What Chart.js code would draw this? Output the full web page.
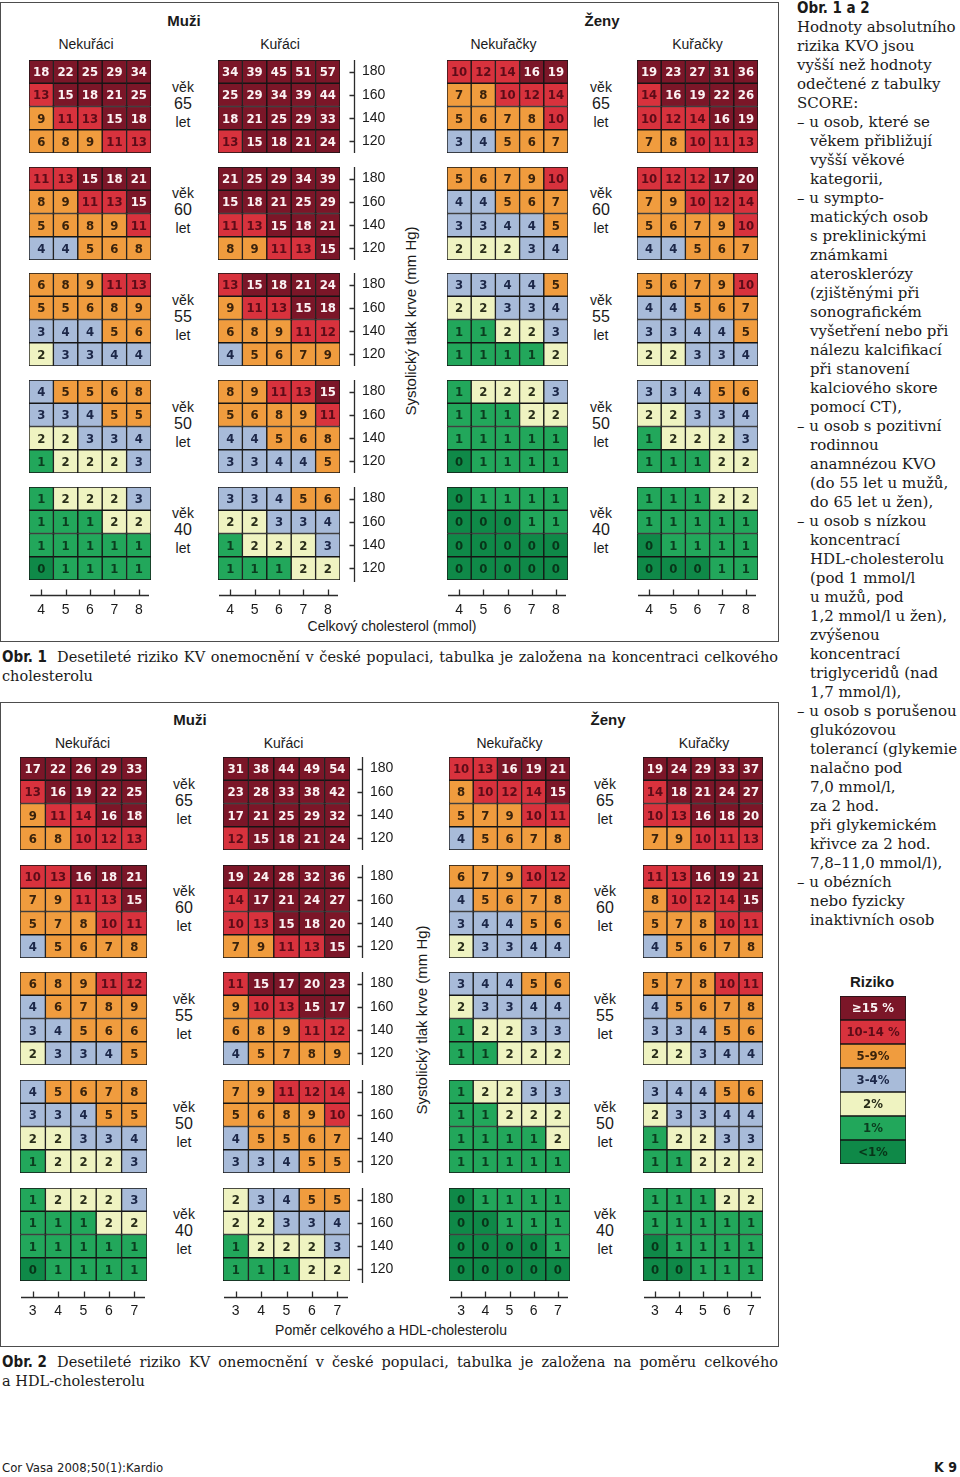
<!DOCTYPE html>
<html lang="cs">
<head>
<meta charset="utf-8">
<title>SCORE – riziko KV onemocnění</title>
<script src="https://cdn.jsdelivr.net/npm/chart.js@4.4.0/dist/chart.umd.min.js"></script>
<style>
  body { margin: 0; background: #fff; width: 960px; height: 1477px; position: relative; overflow: hidden;
         font-family: 'Liberation Sans', Arial, sans-serif; color: #1a1a1a; }
  .t { position: absolute; white-space: nowrap; transform: translate(-50%, -50%); line-height: 1; }
  .frame { position: absolute; border: 1px solid #4d4d4d; box-sizing: border-box; }
  .cv { position: absolute; }
  .narrow { font-family: 'Liberation Sans Narrow', 'DejaVu Sans Condensed', 'Liberation Sans', sans-serif; font-stretch: condensed; }
  .serif { font-family: 'DejaVu Serif', 'Liberation Serif', serif; }
  .cap { position: absolute; left: 2px; width: 776px; font-size: 14.5px; line-height: 19px; }
  .cap .l1 { display: flex; }
  .cap b { width: 55px; flex: none; font-size: 15px; }
  .cap .j { flex: 1; white-space: nowrap; text-align: justify; text-align-last: justify; }
  #side { position: absolute; left: 797px; top: -1px; font-size: 15px; line-height: 19px; white-space: nowrap; }
  #side div.i { padding-left: 13px; }
</style>
</head>
<body>
<script>
// categories / ticks
const ageGroups = [65, 60, 55, 50, 40];
const sbpLabels = [180, 160, 140, 120];
const cholTicks = [4, 5, 6, 7, 8];
const ratioTicks = [3, 4, 5, 6, 7];

// risk bands (legend)
const bandLabels = ['≥15 %', '10-14 %', '5-9%', '3-4%', '2%', '1%', '<1%'];
const bandMins = [15, 10, 5, 3, 2, 1, 0];

// Obr. 1 - celkový cholesterol; rows = SBP 180..120, columns = cholTicks
const f1MenNon = [
  [[18, 22, 25, 29, 34], [13, 15, 18, 21, 25], [9, 11, 13, 15, 18], [6, 8, 9, 11, 13]],
  [[11, 13, 15, 18, 21], [8, 9, 11, 13, 15], [5, 6, 8, 9, 11], [4, 4, 5, 6, 8]],
  [[6, 8, 9, 11, 13], [5, 5, 6, 8, 9], [3, 4, 4, 5, 6], [2, 3, 3, 4, 4]],
  [[4, 5, 5, 6, 8], [3, 3, 4, 5, 5], [2, 2, 3, 3, 4], [1, 2, 2, 2, 3]],
  [[1, 2, 2, 2, 3], [1, 1, 1, 2, 2], [1, 1, 1, 1, 1], [0, 1, 1, 1, 1]]
];
const f1MenSmk = [
  [[34, 39, 45, 51, 57], [25, 29, 34, 39, 44], [18, 21, 25, 29, 33], [13, 15, 18, 21, 24]],
  [[21, 25, 29, 34, 39], [15, 18, 21, 25, 29], [11, 13, 15, 18, 21], [8, 9, 11, 13, 15]],
  [[13, 15, 18, 21, 24], [9, 11, 13, 15, 18], [6, 8, 9, 11, 12], [4, 5, 6, 7, 9]],
  [[8, 9, 11, 13, 15], [5, 6, 8, 9, 11], [4, 4, 5, 6, 8], [3, 3, 4, 4, 5]],
  [[3, 3, 4, 5, 6], [2, 2, 3, 3, 4], [1, 2, 2, 2, 3], [1, 1, 1, 2, 2]]
];
const f1WomNon = [
  [[10, 12, 14, 16, 19], [7, 8, 10, 12, 14], [5, 6, 7, 8, 10], [3, 4, 5, 6, 7]],
  [[5, 6, 7, 9, 10], [4, 4, 5, 6, 7], [3, 3, 4, 4, 5], [2, 2, 2, 3, 4]],
  [[3, 3, 4, 4, 5], [2, 2, 3, 3, 4], [1, 1, 2, 2, 3], [1, 1, 1, 1, 2]],
  [[1, 2, 2, 2, 3], [1, 1, 1, 2, 2], [1, 1, 1, 1, 1], [0, 1, 1, 1, 1]],
  [[0, 1, 1, 1, 1], [0, 0, 0, 1, 1], [0, 0, 0, 0, 0], [0, 0, 0, 0, 0]]
];
const f1WomSmk = [
  [[19, 23, 27, 31, 36], [14, 16, 19, 22, 26], [10, 12, 14, 16, 19], [7, 8, 10, 11, 13]],
  [[10, 12, 12, 17, 20], [7, 9, 10, 12, 14], [5, 6, 7, 9, 10], [4, 4, 5, 6, 7]],
  [[5, 6, 7, 9, 10], [4, 4, 5, 6, 7], [3, 3, 4, 4, 5], [2, 2, 3, 3, 4]],
  [[3, 3, 4, 5, 6], [2, 2, 3, 3, 4], [1, 2, 2, 2, 3], [1, 1, 1, 2, 2]],
  [[1, 1, 1, 2, 2], [1, 1, 1, 1, 1], [0, 1, 1, 1, 1], [0, 0, 0, 1, 1]]
];

// Obr. 2 - poměr celkového a HDL-cholesterolu; columns = ratioTicks
const f2MenNon = [
  [[17, 22, 26, 29, 33], [13, 16, 19, 22, 25], [9, 11, 14, 16, 18], [6, 8, 10, 12, 13]],
  [[10, 13, 16, 18, 21], [7, 9, 11, 13, 15], [5, 7, 8, 10, 11], [4, 5, 6, 7, 8]],
  [[6, 8, 9, 11, 12], [4, 6, 7, 8, 9], [3, 4, 5, 6, 6], [2, 3, 3, 4, 5]],
  [[4, 5, 6, 7, 8], [3, 3, 4, 5, 5], [2, 2, 3, 3, 4], [1, 2, 2, 2, 3]],
  [[1, 2, 2, 2, 3], [1, 1, 1, 2, 2], [1, 1, 1, 1, 1], [0, 1, 1, 1, 1]]
];
const f2MenSmk = [
  [[31, 38, 44, 49, 54], [23, 28, 33, 38, 42], [17, 21, 25, 29, 32], [12, 15, 18, 21, 24]],
  [[19, 24, 28, 32, 36], [14, 17, 21, 24, 27], [10, 13, 15, 18, 20], [7, 9, 11, 13, 15]],
  [[11, 15, 17, 20, 23], [9, 10, 13, 15, 17], [6, 8, 9, 11, 12], [4, 5, 7, 8, 9]],
  [[7, 9, 11, 12, 14], [5, 6, 8, 9, 10], [4, 5, 5, 6, 7], [3, 3, 4, 5, 5]],
  [[2, 3, 4, 5, 5], [2, 2, 3, 3, 4], [1, 2, 2, 2, 3], [1, 1, 1, 2, 2]]
];
const f2WomNon = [
  [[10, 13, 16, 19, 21], [8, 10, 12, 14, 15], [5, 7, 9, 10, 11], [4, 5, 6, 7, 8]],
  [[6, 7, 9, 10, 12], [4, 5, 6, 7, 8], [3, 4, 4, 5, 6], [2, 3, 3, 4, 4]],
  [[3, 4, 4, 5, 6], [2, 3, 3, 4, 4], [1, 2, 2, 3, 3], [1, 1, 2, 2, 2]],
  [[1, 2, 2, 3, 3], [1, 1, 2, 2, 2], [1, 1, 1, 1, 2], [1, 1, 1, 1, 1]],
  [[0, 1, 1, 1, 1], [0, 0, 1, 1, 1], [0, 0, 0, 0, 1], [0, 0, 0, 0, 0]]
];
const f2WomSmk = [
  [[19, 24, 29, 33, 37], [14, 18, 21, 24, 27], [10, 13, 16, 18, 20], [7, 9, 10, 11, 13]],
  [[11, 13, 16, 19, 21], [8, 10, 12, 14, 15], [5, 7, 8, 10, 11], [4, 5, 6, 7, 8]],
  [[5, 7, 8, 10, 11], [4, 5, 6, 7, 8], [3, 3, 4, 5, 6], [2, 2, 3, 4, 4]],
  [[3, 4, 4, 5, 6], [2, 3, 3, 4, 4], [1, 2, 2, 3, 3], [1, 1, 2, 2, 2]],
  [[1, 1, 1, 2, 2], [1, 1, 1, 1, 1], [0, 1, 1, 1, 1], [0, 0, 1, 1, 1]]
];

// band styles
const bandColors = ['#7b1628', '#d8323d', '#f09c3e', '#a8bbd9', '#eff3c1', '#22a75b', '#0f8948'];
const bandText = ['#fbf2f3', '#5c0c18', '#3a230c', '#1c2748', '#2a2e1a', '#0b3d1f', '#083519'];

function band(v) {
  return bandMins.findIndex(m => v >= m);
}

const CELL_FONT = "bold 13px 'Liberation Sans Narrow', 'DejaVu Sans Condensed', 'Liberation Sans', sans-serif";
const AXIS_FONT = { size: 14, family: "'Liberation Sans', Arial, sans-serif" };

// numbers inside the cells
const cellText = {
  id: 'cellText',
  afterDatasetsDraw(chart) {
    const ctx = chart.ctx;
    ctx.save();
    ctx.font = CELL_FONT;
    ctx.textAlign = 'center';
    ctx.textBaseline = 'middle';
    chart.data.datasets.forEach((ds, i) => {
      chart.getDatasetMeta(i).data.forEach((bar, j) => {
        ctx.fillStyle = bandText[ds.bands[j]];
        ctx.fillText(ds.texts[j], bar.x, (bar.y + bar.base) / 2 + 1);
      });
    });
    ctx.restore();
  }
};

// axis lines sitting a little away from the cells
const axisLines = {
  id: 'axisLines',
  afterDraw(chart, args, opts) {
    const { ctx, chartArea: a, scales } = chart;
    ctx.save();
    ctx.strokeStyle = '#2b2b2b';
    ctx.lineWidth = 1.3;
    ctx.beginPath();
    if (opts.x) {
      const y = Math.round(a.bottom + opts.x) + 0.5;
      ctx.moveTo(a.left + 1, y);
      ctx.lineTo(a.right - 2, y);
      scales.x.ticks.forEach((t, i) => {
        const px = Math.round(scales.x.getPixelForTick(i)) + 0.5;
        ctx.moveTo(px, y);
        ctx.lineTo(px, y - 6);
      });
    }
    if (opts.y) {
      const x = Math.round(a.right + opts.y) + 0.5;
      ctx.moveTo(x, a.top);
      ctx.lineTo(x, a.bottom + 2);
      scales.y.ticks.forEach(t => {
        const py = Math.round(scales.y.getPixelForValue(t.value)) + 0.5;
        ctx.moveTo(x - 5, py);
        ctx.lineTo(x, py);
      });
    }
    ctx.stroke();
    ctx.restore();
  }
};

function addText(str, x, y, size, extra) {
  const d = document.createElement('div');
  d.className = 't';
  d.textContent = str;
  d.style.left = x + 'px';
  d.style.top = y + 'px';
  d.style.fontSize = size + 'px';
  if (extra) Object.assign(d.style, extra);
  document.body.appendChild(d);
  return d;
}

function addCanvas(x, y, w, h) {
  const c = document.createElement('canvas');
  c.className = 'cv';
  c.width = w; c.height = h;
  c.style.left = x + 'px'; c.style.top = y + 'px';
  c.style.width = w + 'px'; c.style.height = h + 'px';
  document.body.appendChild(c);
  return c;
}

const PANEL_H = 93;
const X_AXIS_H = 34;
const Y_AXIS_W = 50;

function blockChart(x, y, w, rows, xLabels, showX, showY, gaps) {
  const c = addCanvas(x, y, w + (showY ? Y_AXIS_W : 0), PANEL_H + (showX ? X_AXIS_H : 0));
  const datasets = [];
  for (let r = rows.length - 1; r >= 0; r--) {
    datasets.push({
      label: sbpLabels[r] + ' mm Hg',
      data: xLabels.map(() => 1),
      texts: rows[r],
      bands: rows[r].map(band),
      backgroundColor: rows[r].map(v => bandColors[band(v)]),
      borderColor: '#151515',
      borderWidth: 1,
      borderSkipped: false,
      barPercentage: 1,
      categoryPercentage: 1
    });
  }
  const xScale = {
    stacked: true, display: showX,
    grid: { display: false, drawTicks: false }, border: { display: false },
    ticks: { padding: 22, color: '#1a1a1a', font: AXIS_FONT, autoSkip: false, maxRotation: 0 }
  };
  if (showX) xScale.afterFit = s => { s.height = X_AXIS_H; s.paddingLeft = 0; s.paddingRight = 0; };
  const yScale = {
    stacked: true, min: 0, max: rows.length, display: showY, position: 'right',
    grid: { display: false, drawTicks: false }, border: { display: false },
    afterBuildTicks: s => { s.ticks = rows.map((_, i) => ({ value: i + 0.5 })); },
    ticks: {
      padding: gaps.y + 8, color: '#1a1a1a', font: AXIS_FONT, autoSkip: false,
      callback: v => sbpLabels[rows.length - 1 - Math.floor(v)]
    }
  };
  if (showY) yScale.afterFit = s => { s.width = Y_AXIS_W; s.paddingTop = 0; s.paddingBottom = 0; };
  return new Chart(c, {
    type: 'bar',
    data: { labels: xLabels, datasets },
    options: {
      responsive: false, animation: false, devicePixelRatio: 1,
      layout: { padding: 0 },
      plugins: {
        legend: { display: false },
        tooltip: { enabled: false },
        axisLines: { x: showX ? gaps.x : 0, y: showY ? gaps.y : 0 }
      },
      scales: { x: xScale, y: yScale }
    },
    plugins: [cellText, axisLines]
  });
}

function drawFigure(f) {
  const fr = document.createElement('div');
  fr.className = 'frame';
  Object.assign(fr.style, { left: '0px', top: f.frame[0] + 'px', width: '779px', height: f.frame[1] + 'px' });
  document.body.appendChild(fr);

  addText('Muži', f.sexX[0], f.headY, 15, { fontWeight: 'bold' });
  addText('Ženy', f.sexX[1], f.headY, 15, { fontWeight: 'bold' });

  f.panels.forEach(p => {
    addText(p.title, p.x + p.w / 2 + p.titleDx, f.headY + 24, 14);
    p.data.forEach((rows, a) => {
      const top = Math.round(f.top0 + a * f.pitch);
      blockChart(p.x, top, p.w, rows, f.xLabels, a === p.data.length - 1, !!p.sbp, f.gaps);
    });
  });

  ageGroups.forEach((age, a) => {
    const mid = f.top0 + a * f.pitch + PANEL_H / 2;
    f.ageX.forEach(ax => {
      addText('věk', ax, mid - 20, 14);
      addText(String(age), ax, mid - 3, 16);
      addText('let', ax, mid + 15, 14);
    });
  });

  addText('Systolický tlak krve (mm Hg)', f.sbpTitle[0], f.sbpTitle[1], 15, { transform: 'translate(-50%, -50%) rotate(-90deg)' });
  addText(f.xTitle, f.xTitlePos[0], f.xTitlePos[1], 14);
}

drawFigure({
  frame: [2, 640], headY: 20, top0: 60, pitch: 106.7,
  sexX: [184, 602], ageX: [183, 601], xLabels: cholTicks,
  gaps: { x: 15, y: 14 },
  sbpTitle: [410, 321], xTitle: 'Celkový cholesterol (mmol)', xTitlePos: [392, 626],
  panels: [
    { title: 'Nekuřáci', data: f1MenNon, x: 29, w: 122, titleDx: -4 },
    { title: 'Kuřáci', data: f1MenSmk, x: 218, w: 122, sbp: true, titleDx: 1 },
    { title: 'Nekuřačky', data: f1WomNon, x: 447, w: 121, titleDx: -4 },
    { title: 'Kuřačky', data: f1WomSmk, x: 637, w: 121, titleDx: 0 }
  ]
});

drawFigure({
  frame: [702, 645], headY: 719, top0: 757, pitch: 107.7,
  sexX: [190, 608], ageX: [184, 605], xLabels: ratioTicks,
  gaps: { x: 16, y: 12 },
  sbpTitle: [421, 1020], xTitle: 'Poměr celkového a HDL-cholesterolu', xTitlePos: [391, 1330],
  panels: [
    { title: 'Nekuřáci', data: f2MenNon, x: 20, w: 127, titleDx: -1 },
    { title: 'Kuřáci', data: f2MenSmk, x: 223, w: 127, sbp: true, titleDx: -3 },
    { title: 'Nekuřačky', data: f2WomNon, x: 449, w: 121, titleDx: 0 },
    { title: 'Kuřačky', data: f2WomSmk, x: 643, w: 120, titleDx: 1 }
  ]
});

// legend "Riziko" as one stacked column
addText('Riziko', 872, 981, 15, { fontWeight: 'bold' });
(function () {
  const c = addCanvas(840, 996, 66, 168);
  const datasets = bandLabels.map((lab, i) => ({
    label: lab,
    data: [1],
    texts: [lab],
    bands: [i],
    backgroundColor: bandColors[i],
    borderColor: '#151515', borderWidth: 1, borderSkipped: false,
    barPercentage: 1, categoryPercentage: 1
  })).reverse();
  new Chart(c, {
    type: 'bar',
    data: { labels: ['Riziko'], datasets },
    options: {
      responsive: false, animation: false, devicePixelRatio: 1,
      plugins: { legend: { display: false }, tooltip: { enabled: false }, axisLines: { x: 0, y: 0 } },
      scales: {
        x: { stacked: true, display: false },
        y: { stacked: true, min: 0, max: bandLabels.length, display: false }
      }
    },
    plugins: [cellText, axisLines]
  });
})();

// captions
function caption(top, label, line1, line2) {
  const d = document.createElement('div');
  d.className = 'cap serif';
  d.style.top = top + 'px';
  d.innerHTML = '<div class="l1"><b class="narrow">' + label + '</b><span class="j">' + line1 + '</span></div><div>' + line2 + '</div>';
  document.body.appendChild(d);
}
caption(648, 'Obr. 1', 'Desetileté riziko KV onemocnění v české populaci, tabulka je založena na koncentraci celkového', 'cholesterolu');
caption(1353, 'Obr. 2', 'Desetileté riziko KV onemocnění v české populaci, tabulka je založena na poměru celkového', 'a HDL-cholesterolu');

// side text
const sideLines = [
  ['Obr. 1 a 2', 'h'],
  ['Hodnoty absolutního'], ['rizika KVO jsou'], ['vyšší než hodnoty'], ['odečtené z tabulky'], ['SCORE:'],
  ['– u osob, které se'], ['věkem přibližují', 'i'], ['vyšší věkové', 'i'], ['kategorii,', 'i'],
  ['– u sympto-'], ['matických osob', 'i'], ['s preklinickými', 'i'], ['známkami', 'i'], ['aterosklerózy', 'i'],
  ['(zjištěnými při', 'i'], ['sonografickém', 'i'], ['vyšetření nebo při', 'i'], ['nálezu kalcifikací', 'i'],
  ['při stanovení', 'i'], ['kalciového skore', 'i'], ['pomocí CT),', 'i'],
  ['– u osob s pozitivní'], ['rodinnou', 'i'], ['anamnézou KVO', 'i'], ['(do 55 let u mužů,', 'i'], ['do 65 let u žen),', 'i'],
  ['– u osob s nízkou'], ['koncentrací', 'i'], ['HDL-cholesterolu', 'i'], ['(pod 1 mmol/l', 'i'], ['u mužů, pod', 'i'],
  ['1,2 mmol/l u žen),', 'i'], ['zvýšenou', 'i'], ['koncentrací', 'i'], ['triglyceridů (nad', 'i'], ['1,7 mmol/l),', 'i'],
  ['– u osob s porušenou'], ['glukózovou', 'i'], ['tolerancí (glykemie', 'i'], ['nalačno pod', 'i'], ['7,0 mmol/l,', 'i'],
  ['za 2 hod.', 'i'], ['při glykemickém', 'i'], ['křivce za 2 hod.', 'i'], ['7,8–11,0 mmol/l),', 'i'],
  ['– u obézních'], ['nebo fyzicky', 'i'], ['inaktivních osob', 'i']
];
const side = document.createElement('div');
side.id = 'side';
side.className = 'serif';
sideLines.forEach(([txt, kind]) => {
  const d = document.createElement('div');
  d.textContent = txt;
  if (kind === 'i') d.className = 'i';
  if (kind === 'h') { d.className = 'narrow'; d.style.fontWeight = 'bold'; d.style.fontSize = '15px'; }
  side.appendChild(d);
});
document.body.appendChild(side);

// footer
addText('Cor Vasa 2008;50(1):Kardio', 2, 1467, 13, { transform: 'translate(0, -50%)' }).classList.add('narrow');
addText('K 9', 957, 1467, 14, { transform: 'translate(-100%, -50%)', fontWeight: 'bold' }).classList.add('narrow');
</script>
</body>
</html>
